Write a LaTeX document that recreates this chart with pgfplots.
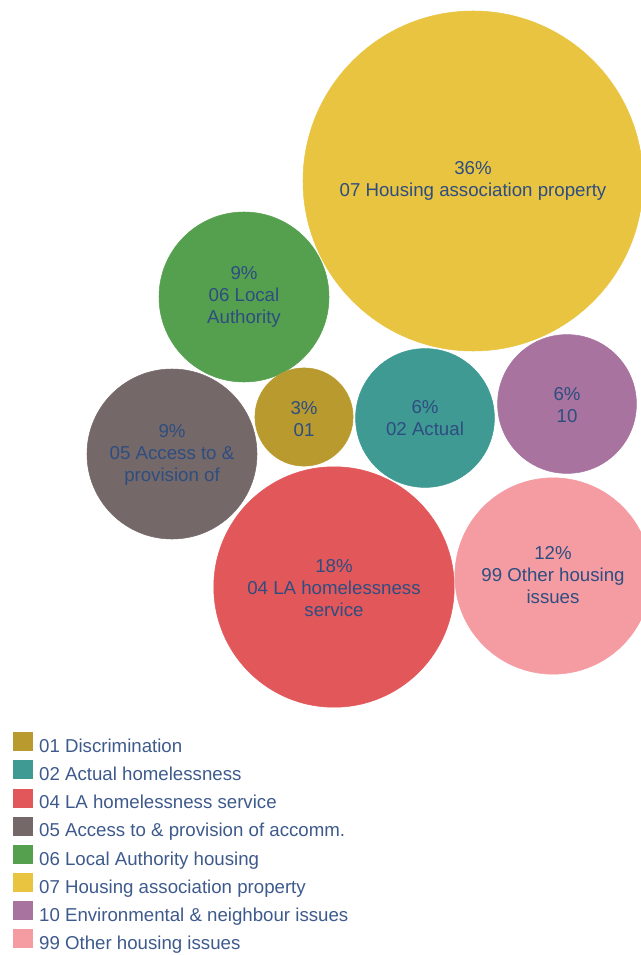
\documentclass[border=0pt]{standalone}
\usepackage{pgfplots}
\usepackage{pgfplotstable}
\pgfplotsset{compat=1.18}
\usepackage{fontspec}
\setmainfont{Liberation Sans}
\definecolor{c01}{HTML}{B89A2E}
\definecolor{c02}{HTML}{3F9A94}
\definecolor{c04}{HTML}{E2575A}
\definecolor{c05}{HTML}{756868}
\definecolor{c06}{HTML}{55A04E}
\definecolor{c07}{HTML}{E9C440}
\definecolor{c10}{HTML}{A8749F}
\definecolor{c99}{HTML}{F59CA3}
\definecolor{txtblue}{HTML}{2E4D80}
\definecolor{legblue}{HTML}{3E5A8C}
\pgfplotstableread{
x   y   pct cls
473 181 36  f
244 297 9   e
304 417 3   a
425 418 6   b
567 404 6   g
172 454 9   d
334 587 18  c
553 576 12  h
}\bubbles
\pgfplotsset{sq/.style={legend image code/.code={\fill[#1] (0pt,-2.25pt) rectangle (14pt,11.25pt);}}}
\tikzset{lbl/.style={align=center, font=\fontsize{14}{16.5}\selectfont, text=txtblue}}
\begin{document}
\begin{tikzpicture}
\useasboundingbox (0,0) rectangle (480.75pt,716.25pt);
\begin{axis}[
  at={(0,0)}, anchor=south west,
  scale only axis, width=480.75pt, height=716.25pt,
  xmin=0, xmax=641, ymin=0, ymax=955, y dir=reverse,
  hide axis, clip marker paths=true,
  legend style={at={(axis cs:13,732)}, anchor=north west, draw=none, fill=none,
    inner sep=0pt, row sep=2.9pt, font=\fontsize{14}{16.5}\selectfont, text=legblue,
    nodes={inner ysep=0pt, text height=10.5pt, text depth=3pt},
    /tikz/every odd column/.append style={column sep=3pt}},
  legend cell align=left,
]
\addplot[scatter, only marks, mark=*, forget plot, point meta=explicit symbolic,
  scatter/classes={a={c01}, b={c02}, c={c04}, d={c05}, e={c06}, f={c07}, g={c10}, h={c99}},
  visualization depends on={21.25*sqrt(\thisrow{pct})\as\rad},
  scatter/@pre marker code/.append style={/tikz/mark size=\rad pt}]
  table[x=x, y=y, meta=cls]{\bubbles};
\coordinate (L07) at (axis cs:473,181);
\coordinate (L06) at (axis cs:244,297);
\coordinate (L01) at (axis cs:304,419);
\coordinate (L02) at (axis cs:425,418);
\coordinate (L10) at (axis cs:567,405);
\coordinate (L05) at (axis cs:172,455);
\coordinate (L04) at (axis cs:334,588);
\coordinate (L99) at (axis cs:553,575);
\addlegendimage{sq=c01}\addlegendentry{01 Discrimination}
\addlegendimage{sq=c02}\addlegendentry{02 Actual homelessness}
\addlegendimage{sq=c04}\addlegendentry{04 LA homelessness service}
\addlegendimage{sq=c05}\addlegendentry{05 Access to \& provision of accomm.}
\addlegendimage{sq=c06}\addlegendentry{06 Local Authority housing}
\addlegendimage{sq=c07}\addlegendentry{07 Housing association property}
\addlegendimage{sq=c10}\addlegendentry{10 Environmental \& neighbour issues}
\addlegendimage{sq=c99}\addlegendentry{99 Other housing issues}
\end{axis}
\node[lbl] at (L07) {36\%\\07 Housing association property};
\node[lbl] at (L06) {9\%\\06 Local\\Authority};
\node[lbl] at (L01) {3\%\\01};
\node[lbl] at (L02) {6\%\\02 Actual};
\node[lbl] at (L10) {6\%\\10};
\node[lbl] at (L05) {9\%\\05 Access to \&\\provision of};
\node[lbl] at (L04) {18\%\\04 LA homelessness\\service};
\node[lbl] at (L99) {12\%\\99 Other housing\\issues};
\end{tikzpicture}
\end{document}
